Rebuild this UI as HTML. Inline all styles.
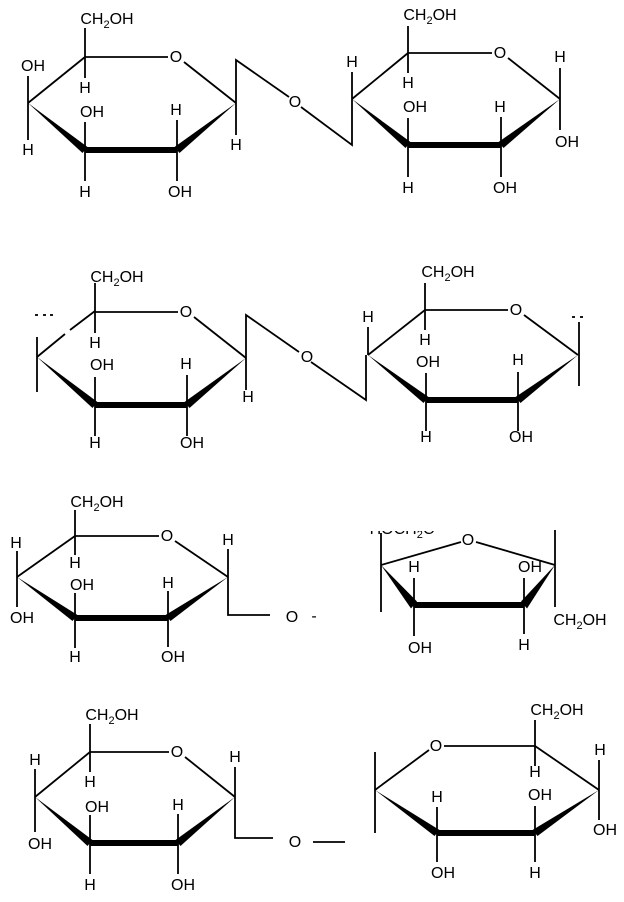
<!DOCTYPE html>
<html><head><meta charset="utf-8"><style>
html,body{margin:0;padding:0;background:#fff;}
svg{display:block;}
text{font-family:"Liberation Sans",sans-serif;font-size:16px;fill:#000;text-anchor:middle;}
.s{font-size:11px;}
line,polyline{stroke:#000;stroke-width:1.8;fill:none;}
.b{stroke-width:6;}
polygon{fill:#000;}
</style></head><body>
<svg width="624" height="902" viewBox="0 0 624 902" xmlns="http://www.w3.org/2000/svg">
<defs><clipPath id="cf"><rect x="360" y="531" width="120" height="30"/></clipPath></defs>

<!-- ROW 1 -->
<g>
<line x1="28" y1="103" x2="85" y2="57"/>
<line x1="85" y1="57" x2="168" y2="57"/>
<line x1="184" y1="62" x2="236" y2="103"/>
<polygon points="28,103 82.5,153 87.5,147"/>
<line class="b" x1="85" y1="150" x2="177" y2="150"/>
<polygon points="179.5,153 174.5,147 236,103"/>
<line x1="85" y1="57" x2="85" y2="28"/><line x1="85" y1="57" x2="85" y2="78"/>
<line x1="28" y1="103" x2="28" y2="76"/><line x1="28" y1="103" x2="28" y2="140"/>
<line x1="85" y1="150" x2="85" y2="122"/><line x1="85" y1="150" x2="85" y2="181"/>
<line x1="177" y1="150" x2="177" y2="120"/><line x1="177" y1="150" x2="177" y2="181"/>
<line x1="236" y1="103" x2="236" y2="135"/>
<polyline points="236,103 236,60 289,97"/>
<polyline points="301,107 352,145 352,99"/>
<text x="107" y="24">CH<tspan class="s" dy="4">2</tspan><tspan dy="-4">OH</tspan></text>
<text x="176" y="62">O</text>
<text x="33" y="71">OH</text><text x="28" y="155">H</text>
<text x="85" y="93">H</text><text x="92" y="117">OH</text><text x="85" y="197">H</text>
<text x="176" y="115">H</text><text x="180" y="197">OH</text>
<text x="236" y="150">H</text>
<text x="295" y="107">O</text>
<!-- ring 2 -->
<line x1="352" y1="99" x2="408" y2="53"/>
<line x1="408" y1="53" x2="492" y2="53"/>
<line x1="508" y1="58" x2="560" y2="99"/>
<polygon points="352,99 405.5,148 410.5,142"/>
<line class="b" x1="408" y1="145" x2="501" y2="145"/>
<polygon points="503.5,148 498.5,142 560,99"/>
<line x1="352" y1="99" x2="352" y2="72"/>
<line x1="408" y1="53" x2="408" y2="26"/><line x1="408" y1="53" x2="408" y2="73"/>
<line x1="408" y1="145" x2="408" y2="118"/><line x1="408" y1="145" x2="408" y2="177"/>
<line x1="501" y1="145" x2="501" y2="117"/><line x1="501" y1="145" x2="501" y2="177"/>
<line x1="560" y1="99" x2="560" y2="68"/><line x1="560" y1="99" x2="560" y2="130"/>
<text x="430" y="20">CH<tspan class="s" dy="4">2</tspan><tspan dy="-4">OH</tspan></text>
<text x="500" y="58">O</text>
<text x="352" y="67">H</text><text x="408" y="88">H</text>
<text x="415" y="112">OH</text><text x="408" y="193">H</text>
<text x="500" y="112">H</text><text x="505" y="193">OH</text>
<text x="560" y="62">H</text><text x="567" y="147">OH</text>
</g>

<!-- ROW 2 -->
<g transform="translate(10,255)">
<line x1="27" y1="102" x2="55" y2="79"/><line x1="60" y1="75" x2="85" y2="56"/>
<line x1="85" y1="57" x2="168" y2="57"/>
<line x1="184" y1="62" x2="236" y2="103"/>
<polygon points="27,102 82.5,153 87.5,147"/>
<line class="b" x1="85" y1="150" x2="177" y2="150"/>
<polygon points="179.5,153 174.5,147 236,103"/>
<line x1="85" y1="57" x2="85" y2="28"/><line x1="85" y1="57" x2="85" y2="78"/>
<line x1="27" y1="82" x2="27" y2="137"/>
<line x1="25" y1="60" x2="28" y2="60"/><line x1="33" y1="60" x2="36" y2="60"/><line x1="40" y1="60" x2="43" y2="60"/>
<line x1="85" y1="150" x2="85" y2="122"/><line x1="85" y1="150" x2="85" y2="181"/>
<line x1="177" y1="150" x2="177" y2="120"/><line x1="177" y1="150" x2="177" y2="181"/>
<line x1="236" y1="103" x2="236" y2="135"/>
<polyline points="236,103 236,60 289,97"/>
<polyline points="301,107 356,145 356,100"/>
<text x="107" y="27">CH<tspan class="s" dy="4">2</tspan><tspan dy="-4">OH</tspan></text>
<text x="176" y="62">O</text>
<text x="85" y="93">H</text><text x="92" y="115">OH</text><text x="85" y="193">H</text>
<text x="176" y="114">H</text><text x="182" y="193">OH</text>
<text x="238" y="147">H</text>
<text x="297" y="107">O</text>
</g>
<g transform="translate(16,255)">
<line x1="352" y1="100" x2="409" y2="55"/>
<line x1="409" y1="55" x2="492" y2="55"/>
<line x1="508" y1="60" x2="562" y2="100"/>
<polygon points="352,100 407.5,148 412.5,142"/>
<line class="b" x1="410" y1="145" x2="502" y2="145"/>
<polygon points="504.5,148 499.5,142 562,100"/>
<line x1="352" y1="100" x2="352" y2="72"/>
<line x1="409" y1="55" x2="409" y2="28"/><line x1="409" y1="55" x2="409" y2="75"/>
<line x1="410" y1="145" x2="410" y2="118"/><line x1="410" y1="145" x2="410" y2="176"/>
<line x1="502" y1="145" x2="502" y2="117"/><line x1="502" y1="145" x2="502" y2="176"/>
<line x1="563" y1="67" x2="563" y2="131"/>
<line x1="556" y1="62" x2="559" y2="62"/><line x1="564" y1="62" x2="567" y2="62"/>
<text x="432" y="22">CH<tspan class="s" dy="4">2</tspan><tspan dy="-4">OH</tspan></text>
<text x="500" y="60">O</text>
<text x="352" y="67">H</text><text x="409" y="90">H</text>
<text x="412" y="112">OH</text><text x="410" y="187">H</text>
<text x="502" y="110">H</text><text x="505" y="187">OH</text>
</g>

<!-- ROW 3 left -->
<g>
<line x1="17" y1="577" x2="75" y2="536"/>
<line x1="75" y1="536" x2="159" y2="536"/>
<line x1="175" y1="541" x2="228" y2="577"/>
<polygon points="17,577 72.5,621 77.5,615"/>
<line class="b" x1="75" y1="618" x2="168" y2="618"/>
<polygon points="170.5,621 165.5,615 228,577"/>
<line x1="75" y1="536" x2="75" y2="510"/><line x1="75" y1="536" x2="75" y2="555"/>
<line x1="17" y1="577" x2="17" y2="551"/><line x1="17" y1="577" x2="17" y2="607"/>
<line x1="75" y1="618" x2="75" y2="593"/><line x1="75" y1="618" x2="75" y2="648"/>
<line x1="168" y1="618" x2="168" y2="591"/><line x1="168" y1="618" x2="168" y2="647"/>
<line x1="228" y1="577" x2="228" y2="549"/>
<polyline points="228,577 228,615 270,615"/>
<text x="97" y="507">CH<tspan class="s" dy="4">2</tspan><tspan dy="-4">OH</tspan></text>
<text x="167" y="541">O</text>
<text x="16" y="548">H</text><text x="22" y="623">OH</text>
<text x="75" y="568">H</text><text x="82" y="590">OH</text><text x="75" y="662">H</text>
<text x="168" y="588">H</text><text x="173" y="662">OH</text>
<text x="228" y="545">H</text>
<text x="292" y="622">O</text><text x="314" y="621">-</text>
</g>

<!-- ROW 3 right (furanose) -->
<g>
<text x="402" y="534" clip-path="url(#cf)">HOCH<tspan class="s" dy="4">2</tspan><tspan dy="-4">C</tspan></text>
<line x1="381" y1="533" x2="381" y2="612"/>
<line x1="381" y1="565" x2="461" y2="542"/>
<line x1="476" y1="542" x2="555" y2="565"/>
<line x1="555" y1="530" x2="555" y2="607"/>
<polygon points="381,565 411,608.5 417,601.5"/>
<line class="b" x1="414" y1="605" x2="524" y2="605"/>
<polygon points="527,608.5 521,601.5 555,565"/>
<line x1="414" y1="605" x2="414" y2="578"/><line x1="414" y1="605" x2="414" y2="636"/>
<line x1="524" y1="605" x2="524" y2="578"/><line x1="524" y1="605" x2="524" y2="634"/>
<text x="468" y="545">O</text>
<text x="414" y="572">H</text><text x="420" y="653">OH</text>
<text x="530" y="572">OH</text><text x="524" y="650">H</text>
<text x="580" y="625">CH<tspan class="s" dy="4">2</tspan><tspan dy="-4">OH</tspan></text>
</g>

<!-- ROW 4 left -->
<g>
<line x1="35" y1="797" x2="90" y2="752"/>
<line x1="90" y1="752" x2="169" y2="752"/>
<line x1="185" y1="757" x2="235" y2="797"/>
<polygon points="35,797 87.5,846 92.5,840"/>
<line class="b" x1="90" y1="843" x2="178" y2="843"/>
<polygon points="180.5,846 175.5,840 235,797"/>
<line x1="90" y1="752" x2="90" y2="724"/><line x1="90" y1="752" x2="90" y2="772"/>
<line x1="35" y1="797" x2="35" y2="769"/><line x1="35" y1="797" x2="35" y2="832"/>
<line x1="90" y1="843" x2="90" y2="815"/><line x1="90" y1="843" x2="90" y2="874"/>
<line x1="178" y1="843" x2="178" y2="814"/><line x1="178" y1="843" x2="178" y2="874"/>
<line x1="235" y1="797" x2="235" y2="767"/>
<polyline points="235,797 235,838 273,838"/>
<line x1="313" y1="842" x2="345" y2="842"/>
<text x="112" y="720">CH<tspan class="s" dy="4">2</tspan><tspan dy="-4">OH</tspan></text>
<text x="177" y="757">O</text>
<text x="35" y="765">H</text><text x="40" y="849">OH</text>
<text x="90" y="787">H</text><text x="97" y="812">OH</text><text x="90" y="890">H</text>
<text x="178" y="810">H</text><text x="183" y="890">OH</text>
<text x="235" y="762">H</text>
<text x="295" y="847">O</text>
</g>

<!-- ROW 4 right -->
<g>
<line x1="375" y1="752" x2="375" y2="833"/>
<line x1="375" y1="790" x2="429" y2="750"/>
<line x1="444" y1="746" x2="535" y2="746"/>
<line x1="535" y1="746" x2="599" y2="790"/>
<polygon points="375,790 434.5,836 439.5,830"/>
<line class="b" x1="437" y1="833" x2="535" y2="833"/>
<polygon points="537.5,836 532.5,830 599,790"/>
<line x1="535" y1="746" x2="535" y2="720"/><line x1="535" y1="746" x2="535" y2="766"/>
<line x1="599" y1="790" x2="599" y2="760"/><line x1="599" y1="790" x2="599" y2="820"/>
<line x1="437" y1="833" x2="437" y2="807"/><line x1="437" y1="833" x2="437" y2="862"/>
<line x1="535" y1="833" x2="535" y2="806"/><line x1="535" y1="833" x2="535" y2="862"/>
<text x="436" y="751">O</text>
<text x="557" y="715">CH<tspan class="s" dy="4">2</tspan><tspan dy="-4">OH</tspan></text>
<text x="535" y="777">H</text>
<text x="600" y="755">H</text><text x="605" y="835">OH</text>
<text x="437" y="802">H</text><text x="443" y="878">OH</text>
<text x="540" y="800">OH</text><text x="535" y="878">H</text>
</g>
</svg>
</body></html>
